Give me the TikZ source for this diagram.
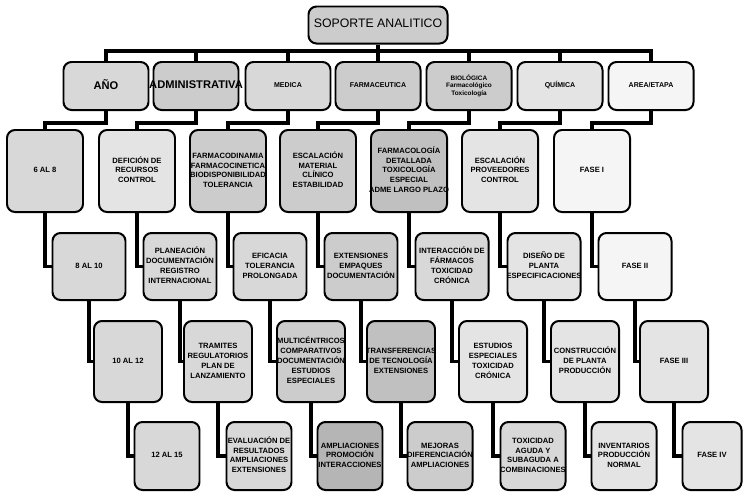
\documentclass[tikz,border=0pt]{standalone}
\usepackage{fontspec}
\setmainfont{Liberation Sans}
\usepackage{tikz}
\definecolor{shadewhite}{HTML}{F5F5F5}
\definecolor{shadepale}{HTML}{E4E4E4}
\definecolor{shadeone}{HTML}{D8D8D8}
\definecolor{shadetwo}{HTML}{CCCCCC}
\definecolor{shadethree}{HTML}{C0C0C0}
\definecolor{shadefour}{HTML}{B5B5B5}
% lines wider than a box stick out on both sides, the box keeps its size
\newcommand{\boxlines}[1]{\makebox[0pt]{\begin{tabular}{@{}c@{}}#1\end{tabular}}}

\begin{document}
\begin{tikzpicture}[x=0.03cm,y=-0.03cm,
    box/.style={draw=black,line width=1.7pt,rounded corners=2.4mm,inner sep=0pt,
      font=\fontsize{6.5}{8.5}\selectfont\bfseries},
    rootbox/.style={box,minimum width=4.17cm,minimum height=1.11cm,
      font=\fontsize{10.5}{12}\selectfont},
    areabox/.style={box,minimum width=2.55cm,minimum height=1.44cm,
      font=\fontsize{6}{7}\selectfont\bfseries},
    rowtwo/.style={box,minimum width=2.28cm,minimum height=2.46cm},
    rowthree/.style={box,minimum width=2.19cm,minimum height=2.01cm},
    rowfour/.style={box,minimum width=2.04cm,minimum height=2.43cm},
    rowfive/.style={box,minimum width=1.95cm,minimum height=2.04cm},
    link/.style={draw=black,line width=2.8pt}]
  \useasboundingbox (0,0) rectangle (744,492);

  \node[rootbox,fill=shadetwo] (soporte) at (378,25) {\boxlines{SOPORTE ANALITICO}};

  % areas
  \node[areabox,fill=shadeone,font=\fontsize{9.5}{11}\selectfont\bfseries] (ano) at (106,86) {\boxlines{AÑO}};
  \node[areabox,fill=shadetwo,font=\fontsize{9.5}{11}\selectfont\bfseries] (adm) at (196,86) {\boxlines{ADMINISTRATIVA}};
  \node[areabox,fill=shadeone] (med) at (288,86) {\boxlines{MEDICA}};
  \node[areabox,fill=shadetwo] (far) at (378,86) {\boxlines{FARMACEUTICA}};
  \node[areabox,fill=shadetwo,font=\fontsize{5.5}{6.5}\selectfont\bfseries] (bio) at (469,86)
    {\boxlines{BIOLÓGICA\\Farmacológico\\Toxicología}};
  \node[areabox,fill=shadepale] (qui) at (560,86) {\boxlines{QUÍMICA}};
  \node[areabox,fill=shadewhite] (eta) at (651,86) {\boxlines{AREA/ETAPA}};

  % second row
  \node[rowtwo,fill=shadeone] (ano2) at (45,171) {\boxlines{6 AL 8}};
  \node[rowtwo,fill=shadepale] (adm2) at (137,171) {\boxlines{DEFICIÓN DE\\RECURSOS\\CONTROL}};
  \node[rowtwo,fill=shadetwo] (med2) at (228,171)
    {\boxlines{FARMACODINAMIA\\FARMACOCINETICA\\BIODISPONIBILIDAD\\TOLERANCIA}};
  \node[rowtwo,fill=shadetwo] (far2) at (318,171)
    {\boxlines{ESCALACIÓN\\MATERIAL\\CLÍNICO\\ESTABILIDAD}};
  \node[rowtwo,fill=shadethree] (bio2) at (409,171)
    {\boxlines{FARMACOLOGÍA\\DETALLADA\\TOXICOLOGÍA\\ESPECIAL\\ADME LARGO PLAZO}};
  \node[rowtwo,fill=shadepale] (qui2) at (500,171) {\boxlines{ESCALACIÓN\\PROVEEDORES\\CONTROL}};
  \node[rowtwo,fill=shadewhite] (eta2) at (592,171) {\boxlines{FASE I}};

  % third row
  \node[rowthree,fill=shadeone] (ano3) at (89,266.5) {\boxlines{8 AL 10}};
  \node[rowthree,fill=shadeone] (adm3) at (180,266.5)
    {\boxlines{PLANEACIÓN\\DOCUMENTACIÓN\\REGISTRO\\INTERNACIONAL}};
  \node[rowthree,fill=shadeone] (med3) at (270,266.5) {\boxlines{EFICACIA\\TOLERANCIA\\PROLONGADA}};
  \node[rowthree,fill=shadetwo] (far3) at (361,266.5) {\boxlines{EXTENSIONES\\EMPAQUES\\DOCUMENTACIÓN}};
  \node[rowthree,fill=shadeone] (bio3) at (452,266.5)
    {\boxlines{INTERACCIÓN DE\\FÁRMACOS\\TOXICIDAD\\CRÓNICA}};
  \node[rowthree,fill=shadepale] (qui3) at (544,266.5) {\boxlines{DISEÑO DE\\PLANTA\\ESPECIFICACIONES}};
  \node[rowthree,fill=shadewhite] (eta3) at (635,266.5) {\boxlines{FASE II}};

  % fourth row
  \node[rowfour,fill=shadeone] (ano4) at (128,361.5) {\boxlines{10 AL 12}};
  \node[rowfour,fill=shadeone] (adm4) at (218,361.5)
    {\boxlines{TRAMITES\\REGULATORIOS\\PLAN DE\\LANZAMIENTO}};
  \node[rowfour,fill=shadetwo] (med4) at (311,361.5)
    {\boxlines{MULTICÉNTRICOS\\COMPARATIVOS\\DOCUMENTACIÓN\\ESTUDIOS\\ESPECIALES}};
  \node[rowfour,fill=shadethree] (far4) at (401,361.5)
    {\boxlines{TRANSFERENCIAS\\DE TECNOLOGÍA\\EXTENSIONES}};
  \node[rowfour,fill=shadepale] (bio4) at (493,361.5)
    {\boxlines{ESTUDIOS\\ESPECIALES\\TOXICIDAD\\CRÓNICA}};
  \node[rowfour,fill=shadepale] (qui4) at (585,361.5) {\boxlines{CONSTRUCCIÓN\\DE PLANTA\\PRODUCCIÓN}};
  \node[rowfour,fill=shadepale] (eta4) at (674,361.5) {\boxlines{FASE III}};

  % fifth row
  \node[rowfive,fill=shadeone] (ano5) at (167,456) {\boxlines{12 AL 15}};
  \node[rowfive,fill=shadeone] (adm5) at (259,456)
    {\boxlines{EVALUACIÓN DE\\RESULTADOS\\AMPLIACIONES\\EXTENSIONES}};
  \node[rowfive,fill=shadefour] (med5) at (350,456) {\boxlines{AMPLIACIONES\\PROMOCIÓN\\INTERACCIONES}};
  \node[rowfive,fill=shadetwo] (far5) at (440,456) {\boxlines{MEJORAS\\DIFERENCIACIÓN\\AMPLIACIONES}};
  \node[rowfive,fill=shadeone] (bio5) at (533,456)
    {\boxlines{TOXICIDAD\\AGUDA Y\\SUBAGUDA A\\COMBINACIONES}};
  \node[rowfive,fill=shadepale] (qui5) at (624,456) {\boxlines{INVENTARIOS\\PRODUCCIÓN\\NORMAL}};
  \node[rowfive,fill=shadepale,minimum width=1.77cm] (eta5) at (712,456) {\boxlines{FASE IV}};

  % connectors
  \draw[link] (soporte.south) -- ++(0,9);
  \draw[link] (ano.north) -- ++(0,-10) -| (eta.north);
  \foreach \c in {adm,med,far,bio,qui}
    \draw[link] (\c.north) -- ++(0,-10);
  \foreach \c in {ano,adm,med,far,bio,qui,eta} {
    \draw[link] (\c.south) -- ++(0,12) -| (\c2.north);
    \draw[link] (\c2.south) |- (\c3.west);
    \draw[link] (\c3.south) |- (\c4.west);
    \draw[link] (\c4.south) |- (\c5.west);
  }
\end{tikzpicture}
\end{document}
